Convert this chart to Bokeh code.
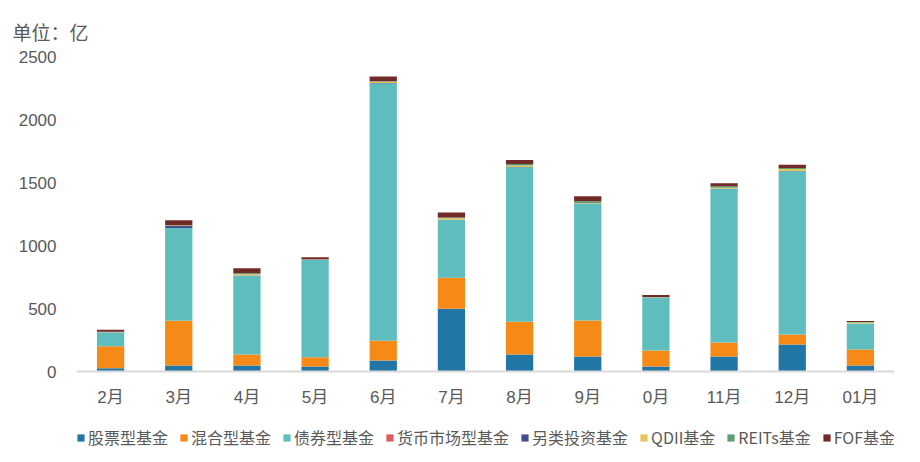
from bokeh.plotting import figure
from bokeh.layouts import column
from bokeh.models import FactorRange, Range1d, FixedTicker, Legend, LegendItem, ColumnDataSource
from bokeh.embed import file_html
from bokeh.resources import INLINE

months = ["2月", "3月", "4月", "5月", "6月", "7月", "8月", "9月", "0月", "11月", "12月", "01月"]
stock = [25, 47, 47, 40, 87, 498, 134, 119, 40, 119, 214, 47]
mixed = [175, 356, 87, 74, 158, 246, 261, 285, 127, 111, 79, 127]
bond = [110, 736, 626, 773, 2041, 459, 1226, 926, 419, 1218, 1297, 206]
money = [0, 0, 0, 0, 0, 0, 0, 0, 0, 0, 0, 0]
alt = [2, 16, 2, 1, 3, 2, 2, 2, 1, 2, 2, 1]
qdii = [2, 3, 10, 2, 10, 12, 12, 3, 2, 8, 16, 8]
reits = [1, 2, 8, 1, 5, 5, 12, 16, 2, 12, 8, 4]
fof = [16, 40, 40, 16, 37, 40, 32, 40, 16, 24, 24, 8]

series_names = ["股票型基金", "混合型基金", "债券型基金", "货币市场型基金", "另类投资基金", "QDII基金", "REITs基金", "FOF基金"]
series_values = [stock, mixed, bond, money, alt, qdii, reits, fof]
colors = ["#2176A5", "#F68A17", "#5FBDBE", "#E05C5C", "#464F8E", "#E4C75A", "#5E9E72", "#722A28"]
y_ticks = [0, 500, 1000, 1500, 2000, 2500]

keys = ["s%d" % i for i in range(len(series_names))]
data = {"month": months}
for k, v in zip(keys, series_values):
    data[k] = v

p = figure(x_range=FactorRange(*months), y_range=Range1d(0, 2500),
           width=912, height=411, output_backend="svg", toolbar_location=None,
           min_border_left=76, min_border_right=18, min_border_top=56, min_border_bottom=40)
p.outline_line_color = None
p.xgrid.grid_line_color = None
p.ygrid.grid_line_color = None

p.title.text = "单位：亿"
p.title.align = "left"
p.title.offset = -64
p.title.standoff = 20
p.title.vertical_align = "top"
p.title.text_font = "Noto Sans CJK SC"
p.title.text_font_size = "19px"
p.title.text_font_style = "normal"
p.title.text_color = "#595959"

p.vbar_stack(keys, x="month", width=0.4, source=data, color=colors, line_color=None)

p.yaxis.ticker = FixedTicker(ticks=y_ticks)
p.yaxis.axis_line_color = None
p.yaxis.major_tick_line_color = None
p.yaxis.minor_tick_line_color = None
p.yaxis.major_tick_out = 0
p.yaxis.major_label_standoff = 20
p.yaxis.major_label_text_font = "Liberation Sans"
p.yaxis.major_label_text_font_size = "17px"
p.yaxis.major_label_text_color = "#595959"

p.xaxis.axis_line_color = "#D9D9D9"
p.xaxis.axis_line_width = 2
p.xaxis.major_tick_line_color = None
p.xaxis.minor_tick_line_color = None
p.xaxis.major_tick_out = 0
p.xaxis.major_label_standoff = 16
p.xaxis.major_label_text_font = "Liberation Sans, Noto Sans CJK SC"
p.xaxis.major_label_text_font_size = "17px"
p.xaxis.major_label_text_color = "#595959"

# legend strip below the chart: its renderers only provide the colour swatches
swatch_src = ColumnDataSource({"month": [months[0]], **{k: [0] for k in keys}})
q = figure(x_range=FactorRange(*months), y_range=Range1d(5, 6),
           width=912, height=43, output_backend="svg", toolbar_location=None,
           x_axis_location=None, y_axis_location=None,
           min_border_left=0, min_border_right=0, min_border_top=0, min_border_bottom=0)
q.outline_line_color = None
q.xgrid.grid_line_color = None
q.ygrid.grid_line_color = None
legend_renderers = q.vbar_stack(keys, x="month", width=0.4, source=swatch_src, color=colors, line_color=None)

items = [LegendItem(label=n, renderers=[r]) for n, r in zip(series_names, legend_renderers)]
legend = Legend(items=items, orientation="horizontal", location=(0, 5),
                glyph_width=9, glyph_height=9, label_standoff=3, spacing=11,
                padding=0, margin=0, border_line_color=None, background_fill_alpha=0,
                label_text_font="Noto Sans CJK SC", label_text_font_size="16px",
                label_text_color="#595959")
q.add_layout(legend, "center")

layout = column(p, q, spacing=0)
open("out.html", "w").write(file_html(layout, INLINE))
